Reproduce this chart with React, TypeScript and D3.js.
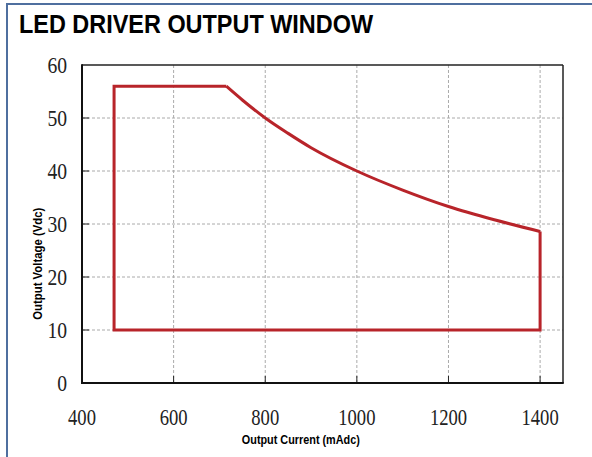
import * as d3 from 'd3'
import React, { useEffect, useRef } from 'react';

// Output window boundary
const windowCurrent = [470, 470, 715, 750, 800, 850, 900, 1000, 1100, 1200, 1300, 1400, 1400];
const windowVoltage = [10, 56, 56, 53.4, 50, 47.1, 44.4, 40, 36.4, 33.3, 30.8, 28.6, 10];

const xTicks = [400, 600, 800, 1000, 1200, 1400];
const yTicks = [0, 10, 20, 30, 40, 50, 60];

const App = () => {
    const myRef = useRef<SVGSVGElement>(null);

    const w = 592;
    const h = 457;
    const margin = { top: 65, right: 29, bottom: 74, left: 82 };

    useEffect(() => {
        const svg = d3.select(myRef.current);
        svg.selectAll('*').remove();

        const graphW = w - margin.left - margin.right;
        const graphH = h - margin.top - margin.bottom;

        const x = d3.scaleLinear().domain([400, 1450]).range([0, graphW]);
        const y = d3.scaleLinear().domain([0, 60]).range([graphH, 0]);

        // Outer frame
        svg.append('rect')
            .attr('x', 7).attr('y', 4)
            .attr('width', w).attr('height', h)
            .attr('fill', 'white')
            .attr('stroke', '#4f6f9f')
            .attr('stroke-width', 2);

        // Title
        svg.append('text')
            .attr('x', 19).attr('y', 33)
            .attr('font-family', 'Liberation Sans, Arial, sans-serif')
            .attr('font-weight', 'bold')
            .attr('font-size', 26)
            .attr('textLength', 354)
            .attr('lengthAdjust', 'spacingAndGlyphs')
            .text('LED DRIVER OUTPUT WINDOW');

        const g = svg.append('g')
            .attr('transform', `translate(${margin.left}, ${margin.top})`);

        // Grid
        g.selectAll('.vgrid')
            .data(xTicks.filter(d => d > 400))
            .enter().append('line')
            .attr('x1', d => x(d)).attr('x2', d => x(d))
            .attr('y1', 0).attr('y2', graphH)
            .attr('stroke', '#aaa')
            .attr('stroke-dasharray', '3,2');

        g.selectAll('.hgrid')
            .data(yTicks.filter(d => d > 0 && d < 60))
            .enter().append('line')
            .attr('x1', 0).attr('x2', graphW)
            .attr('y1', d => y(d)).attr('y2', d => y(d))
            .attr('stroke', '#aaa')
            .attr('stroke-dasharray', '3,2');

        // Inner tick marks
        g.selectAll('.xtick')
            .data(xTicks.filter(d => d > 400))
            .enter().append('line')
            .attr('x1', d => x(d)).attr('x2', d => x(d))
            .attr('y1', graphH).attr('y2', graphH - 7)
            .attr('stroke', '#222');

        g.selectAll('.ytick')
            .data(yTicks.filter(d => d > 0 && d < 60))
            .enter().append('line')
            .attr('x1', 0).attr('x2', 7)
            .attr('y1', d => y(d)).attr('y2', d => y(d))
            .attr('stroke', '#222');

        // Plot border
        g.append('line').attr('x1', 0).attr('x2', graphW).attr('y1', 0).attr('y2', 0)
            .attr('stroke', '#222').attr('stroke-width', 1.5);
        g.append('line').attr('x1', graphW).attr('x2', graphW).attr('y1', 0).attr('y2', graphH)
            .attr('stroke', '#222').attr('stroke-width', 1.5);
        g.append('line').attr('x1', 0).attr('x2', 0).attr('y1', -0.75).attr('y2', graphH + 1)
            .attr('stroke', '#111').attr('stroke-width', 2);
        g.append('line').attr('x1', -1).attr('x2', graphW + 0.75).attr('y1', graphH).attr('y2', graphH)
            .attr('stroke', '#111').attr('stroke-width', 2);

        // Window outline: straight edges + smooth constant-power curve
        const pts = windowCurrent.map((c, i) => [c, windowVoltage[i]] as [number, number]);
        const straight = d3.line<[number, number]>()
            .x(d => x(d[0]))
            .y(d => y(d[1]));
        const smooth = d3.line<[number, number]>()
            .x(d => x(d[0]))
            .y(d => y(d[1]))
            .curve(d3.curveMonotoneX);

        const last = pts.length - 1;
        const edges = [
            [pts[last - 1], pts[last], pts[0], pts[1], pts[2]],
        ];
        const curvePts = pts.slice(2, last);

        g.selectAll('.edge')
            .data(edges)
            .enter().append('path')
            .attr('d', d => straight(d as [number, number][]))
            .attr('fill', 'none')
            .attr('stroke', '#b8242a')
            .attr('stroke-width', 3)
            .attr('stroke-linejoin', 'miter');

        g.append('path')
            .attr('d', smooth(curvePts))
            .attr('fill', 'none')
            .attr('stroke', '#b8242a')
            .attr('stroke-width', 3);

        // Tick labels
        const serif = 'Liberation Serif, Times New Roman, serif';
        g.selectAll('.xlabel')
            .data(xTicks)
            .enter().append('text')
            .attr('x', d => x(d))
            .attr('y', graphH + 42)
            .attr('text-anchor', 'middle')
            .attr('font-family', serif)
            .attr('font-size', 23)
            .attr('fill', '#222')
            .attr('textLength', d => String(d).length * 9.3)
            .attr('lengthAdjust', 'spacingAndGlyphs')
            .text(d => d);

        g.selectAll('.ylabel')
            .data(yTicks)
            .enter().append('text')
            .attr('x', -15)
            .attr('y', d => y(d) + 8)
            .attr('text-anchor', 'end')
            .attr('font-family', serif)
            .attr('font-size', 23)
            .attr('fill', '#222')
            .attr('textLength', d => String(d).length * 9.8)
            .attr('lengthAdjust', 'spacingAndGlyphs')
            .text(d => d);

        // Axis titles
        const sans = 'Liberation Sans, Arial, sans-serif';
        g.append('text')
            .attr('x', x(1000) - 56)
            .attr('y', graphH + 61)
            .attr('text-anchor', 'middle')
            .attr('font-family', sans)
            .attr('font-weight', 'bold')
            .attr('font-size', 13)
            .attr('textLength', 118)
            .attr('lengthAdjust', 'spacingAndGlyphs')
            .text('Output Current (mAdc)');

        g.append('text')
            .attr('transform', `translate(${42 - margin.left}, ${y(22.5)}) rotate(-90)`)
            .attr('text-anchor', 'middle')
            .attr('font-family', sans)
            .attr('font-weight', 'bold')
            .attr('font-size', 13)
            .attr('textLength', 112)
            .attr('lengthAdjust', 'spacingAndGlyphs')
            .text('Output Voltage (Vdc)');
        // eslint-disable-next-line react-hooks/exhaustive-deps
    }, []);

    return (
        <svg ref={myRef} width={w} height={h}
            style={{ position: 'absolute', left: 0, top: 0, background: 'white' }} />
    );
}

export default App;
